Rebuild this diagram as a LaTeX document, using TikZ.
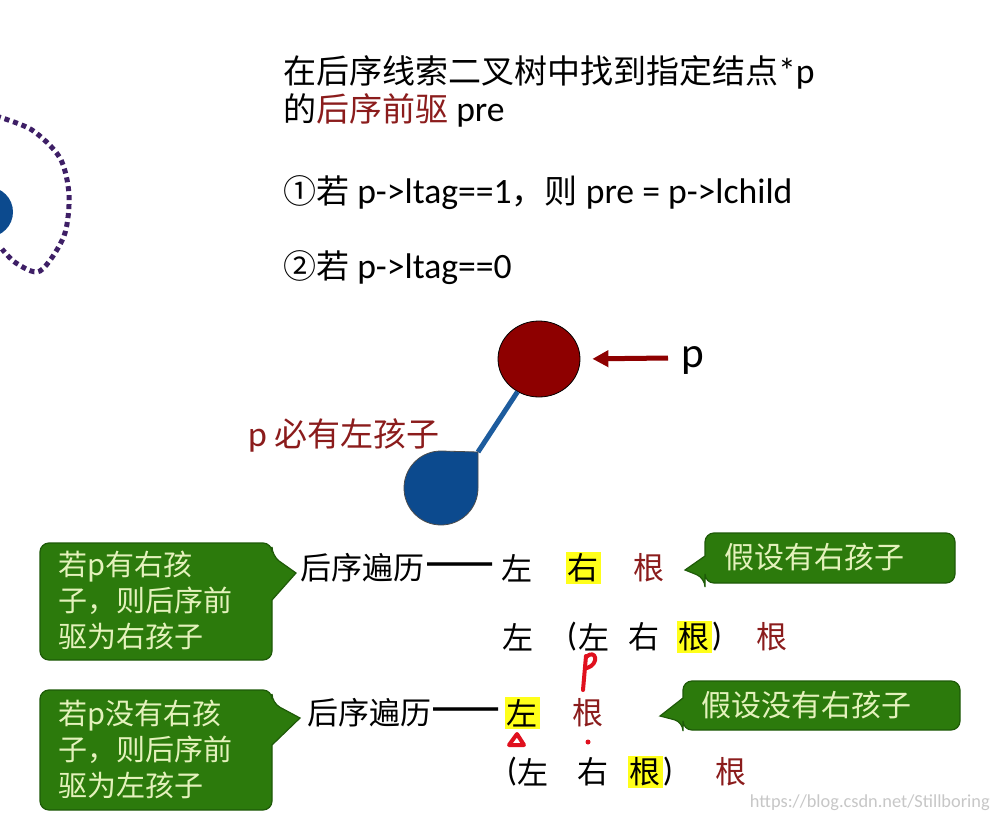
\documentclass[tikz,border=0pt]{standalone}
\usepackage{fontspec}
\setmainfont[Scale=1.08]{Carlito}
\newfontfamily\cjk{Noto Sans CJK SC}
\usetikzlibrary{arrows.meta,shapes.geometric}

\definecolor{darkroot}{HTML}{8B1C1C}
\definecolor{pfill}{HTML}{8E0000}
\definecolor{lfill}{HTML}{0C4A8E}
\definecolor{lline}{HTML}{1D5C9E}
\definecolor{boxgreen}{HTML}{2C7A0C}
\definecolor{boxedge}{HTML}{1E5A08}
\definecolor{boxtext}{HTML}{E4F2BC}
\definecolor{dotpurple}{HTML}{3E1F66}
\definecolor{hlyellow}{HTML}{FFFF1A}
\definecolor{inkred}{HTML}{E0101E}

\newcommand{\txtA}{\fontsize{33}{38}\selectfont} % top lines
\newcommand{\txtB}{\cjk\fontsize{31}{36}\selectfont} % traversal rows
\newcommand{\txtC}{\cjk\fontsize{29}{36}\selectfont} % inside the green boxes

\begin{document}
\begin{tikzpicture}[x=1pt, y=-1pt] % y points down, units are pixels of the slide
\tikzstyle{every node} = [inner sep=0pt]
\tikzstyle{line} = [anchor=west, font=\txtA]
\tikzstyle{row} = [font=\txtB]
\tikzstyle{paren} = [font=\fontsize{31}{36}\selectfont]
\tikzstyle{hl} = [row, fill=hlyellow, inner sep=2pt]
\tikzstyle{rt} = [row, text=darkroot]
\tikzstyle{dash2} = [font=\txtB\bfseries, xscale=1.3]
\tikzstyle{callbox} = [fill=boxgreen, draw=boxedge, line width=1.2]
\tikzstyle{calltext} = [font=\txtC, text=boxtext, align=left, anchor=north west]
\tikzstyle{sidetext} = [font=\cjk\fontsize{30}{30}\selectfont, text=boxtext]
\tikzstyle{ink} = [inkred, line width=4, line cap=round, line join=round]

\fill[white] (0,0) rectangle (996,819);
\useasboundingbox (0,0) rectangle (996,819);

% the cut-off tree on the left
\fill[lfill] (-12,212) circle (25);
\draw[dotpurple, line width=5, dash pattern=on 5pt off 4pt] plot[smooth] coordinates {(-4,116) (32,130) (60,158) (69,195) (64,236) (40,271) (16,263) (2,249)};

% text at the top
\node[line] (t1) at (283,72) {{\cjk 在后序线索二叉树中找到指定结点}*p};
\node[line] (t2) at (283,110) {{\cjk 的\textcolor{darkroot}{后序前驱}} pre};
\node[line] (t3) at (283,193) {{\cjk ①若} p->ltag==1{\cjk ，则} pre = p->lchild};
\node[line] (t4) at (283,268) {{\cjk ②若} p->ltag==0};

% p and its left child
\coordinate (lc) at (478,452);
\coordinate (ptail) at (668,358);
\node[ellipse, fill=pfill, draw=black, line width=0.8, minimum width=82, minimum height=76] (p) at (539,359) {};
\draw[lline, line width=5] (p) -- (lc);
\filldraw[fill=lfill, draw=black!70, line width=0.8] (441,451) -- (lc) -- (478,488) arc[start angle=0, end angle=270, radius=37] -- cycle;
\draw[pfill, line width=5, -{Triangle[length=16,width=16]}, shorten >=12] (ptail) -- (p.east);
\node[font=\fontsize{40}{40}\selectfont] (plab) at (693,360) {p};
\node[rt, font=\txtA, anchor=west] (lab) at (248,435) {p {\cjk 必有左孩子}};

% green boxes (drawn first, text on top)
\draw[callbox] (150,543) [rounded corners=9] -- (272,543) -- (272,556) [sharp corners] -- (296,573) -- (272,600) [rounded corners=9] -- (272,660) -- (40,660) -- (40,543) -- cycle;
\draw[callbox] (150,690) [rounded corners=9] -- (272,690) -- (272,703) [sharp corners] -- (300,718) -- (272,745) [rounded corners=9] -- (272,810) -- (40,810) -- (40,690) -- cycle;
\draw[callbox] (830,533) [rounded corners=9] -- (955,533) -- (955,583) -- (705,583) -- (705,578) [sharp corners] -- (685,570) -- (705,556) [rounded corners=9] -- (705,533) -- cycle;
\draw[callbox] (820,681) [rounded corners=9] -- (960,681) -- (960,730) -- (683,730) -- (683,722) [sharp corners] -- (660,716) -- (683,698) [rounded corners=9] -- (683,681) -- cycle;

\node[calltext] (q1) at (58,551) {若p有右孩\\子，则后序前\\驱为右孩子};
\node[calltext] (q2) at (58,700) {若p没有右孩\\子，则后序前\\驱为左孩子};
\node[sidetext] (q3) at (814,557) {假设有右孩子};
\node[sidetext] (q4) at (806,705) {假设没有右孩子};

% post-order rows
\node[row, anchor=west] (a1) at (300,568) {后序遍历};
\node[dash2] (a1d) at (460,568) {——};
\node[row] (a1l) at (517,568) {左};
\node[hl] (a1r) at (583,568) {右};
\node[rt] (a1g) at (649,568) {根};

\foreach \n/\x/\t in {b1/518/左, b3/594/左, b4/644/右}
  \node[row] (\n) at (\x,637) {\t};
\node[paren] (b2) at (572,637) {(};
\node[paren] (b5) at (717,637) {)};
\node[hl] (b6) at (694,637) {根};
\node[rt] (b7) at (772,637) {根};

\node[row, anchor=west] (c1) at (307,713) {后序遍历};
\node[dash2] (c1d) at (466,713) {——};
\node[hl] (c1l) at (522,713) {左};
\node[rt] (c1g) at (588,713) {根};

\foreach \n/\x/\t in {d2/533/左, d3/593/右}
  \node[row] (\n) at (\x,772) {\t};
\node[paren] (d1) at (512,772) {(};
\node[paren] (d5) at (668,772) {)};
\node[hl] (d4) at (645,772) {根};
\node[rt] (d6) at (731,772) {根};

% red pen marks
\draw[ink] (586,656) -- (583,690);
\draw[ink] (586,657) .. controls (596,648) and (600,664) .. (587,668);
\draw[ink] (509,745) -- (517,734) -- (524,745) -- cycle;
\fill[inkred] (588,742) circle (2.5);

\node[text=black!22, font=\fontsize{17}{17}\selectfont, anchor=east] (wm) at (990,803) {https://blog.csdn.net/Stillboring};
\end{tikzpicture}
\end{document}
